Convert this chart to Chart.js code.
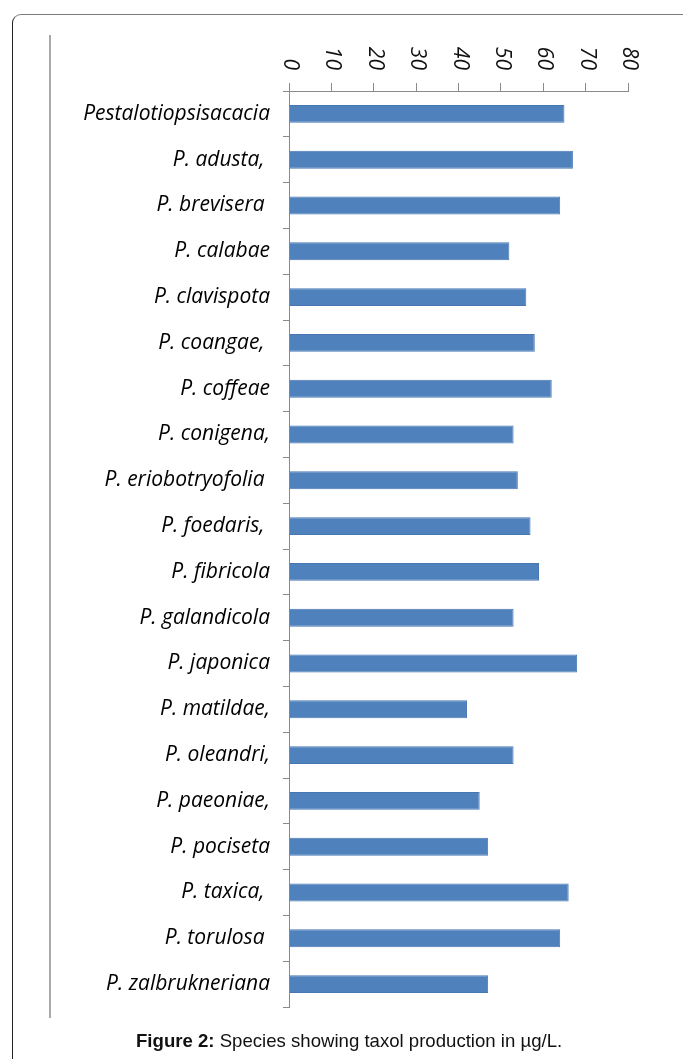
<!DOCTYPE html>
<html>
<head>
<meta charset="utf-8">
<script src="https://cdn.jsdelivr.net/npm/chart.js@4.4.1/dist/chart.umd.min.js"></script>
<style>
  html, body { margin: 0; padding: 0; background: #fff; }
  body { width: 683px; height: 1059px; position: relative; overflow: hidden; }
  #frame {
    position: absolute; left: 12px; top: 14px; width: 720px; height: 1100px;
    border: 1px solid #7a7a7a; border-left-color: #222; border-radius: 9px;
    box-sizing: border-box;
  }
  #sideline {
    position: absolute; left: 49px; top: 35px; width: 2px; height: 983px;
    background: #a9a9a9;
  }
  #chart { position: absolute; left: 0; top: 0; }
  #caption {
    position: absolute; left: 136px; top: 1032px; white-space: nowrap; line-height: 1;
    font-family: "Liberation Sans", Arial, sans-serif; font-size: 18.6px; color: #111;
  }
</style>
</head>
<body>
<div id="frame"></div>
<div id="sideline"></div>
<canvas id="chart" width="683" height="1059"></canvas>
<div id="caption"><b>Figure 2:</b> Species showing taxol production in µg/L.</div>

<script>
  const species = [
    "Pestalotiopsisacacia",
    "P. adusta, ",
    "P. brevisera ",
    "P. calabae",
    "P. clavispota",
    "P. coangae, ",
    "P. coffeae",
    "P. conigena,",
    "P. eriobotryofolia ",
    "P. foedaris, ",
    "P. fibricola",
    "P. galandicola",
    "P. japonica",
    "P. matildae,",
    "P. oleandri,",
    "P. paeoniae,",
    "P. pociseta",
    "P. taxica, ",
    "P. torulosa ",
    "P. zalbrukneriana",
  ];
  const taxolYield = [65, 67, 64, 52, 56, 58, 62, 53, 54, 57, 59, 53, 68, 42, 53, 45, 47, 66, 64, 47];
  const valueTicks = [0, 10, 20, 30, 40, 50, 60, 70, 80];

  const axisGray = "#8a8a8a";

  // value labels sit above the top axis, turned a quarter clockwise
  const rotatedTickLabels = {
    id: "rotatedTickLabels",
    afterDraw(chart) {
      const scale = chart.scales.x;
      const ctx = chart.ctx;
      ctx.save();
      ctx.font = "italic 21px 'Open Sans', Lato, sans-serif";
      ctx.fillStyle = "#111";
      ctx.textAlign = "right";
      ctx.textBaseline = "middle";
      valueTicks.forEach((v) => {
        const x = scale.getPixelForValue(v);
        ctx.save();
        ctx.translate(x + 1, scale.bottom - 21);
        ctx.rotate(Math.PI / 2);
        ctx.fillText(String(v), 0, 0);
        ctx.restore();
      });
      ctx.restore();
    },
  };

  const ctx = document.getElementById("chart").getContext("2d");
  new Chart(ctx, {
    type: "bar",
    data: {
      labels: species,
      datasets: [
        {
          label: "Taxol (µg/L)",
          data: taxolYield,
          backgroundColor: "#4f81bd",
          borderColor: "#4677b3",
          borderWidth: 1,
          barPercentage: 0.39,
          categoryPercentage: 1,
        },
      ],
    },
    options: {
      indexAxis: "y",
      responsive: false,
      animation: false,
      layout: { padding: { left: 0, top: 0, right: 55, bottom: 52 } },
      plugins: {
        legend: { display: false },
        tooltip: { enabled: false },
      },
      scales: {
        x: {
          position: "top",
          min: 0,
          max: 80,
          afterBuildTicks: (scale) => {
            scale.ticks = valueTicks.map((v) => ({ value: v }));
          },
          afterFit: (scale) => {
            scale.height = 91;
          },
          ticks: { display: false },
          grid: {
            drawOnChartArea: false,
            drawTicks: true,
            tickLength: 8,
            color: axisGray,
          },
          border: { display: true, color: axisGray },
        },
        y: {
          afterFit: (scale) => {
            scale.width = 289;
          },
          ticks: {
            color: "#000",
            padding: 13,
            font: { family: "'Open Sans', Lato, sans-serif", size: 21, style: "italic" },
          },
          grid: {
            offset: true,
            drawOnChartArea: false,
            drawTicks: true,
            tickLength: 6,
            color: axisGray,
          },
          border: { display: true, color: axisGray },
        },
      },
    },
    plugins: [rotatedTickLabels],
  });
</script>
</body>
</html>
